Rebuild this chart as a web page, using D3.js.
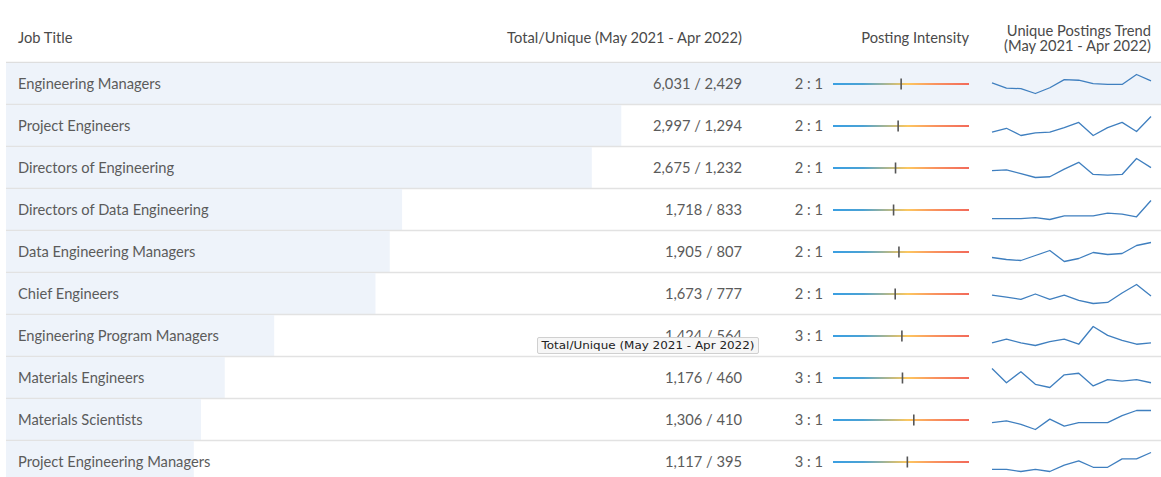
<!DOCTYPE html>
<html>
<head>
<meta charset="utf-8">
<script src="https://cdn.jsdelivr.net/npm/d3@7"></script>
<style>
  html, body { margin: 0; padding: 0; background: #fff; }
  svg { display: block; font-family: Lato, "Open Sans", sans-serif; }
</style>
</head>
<body>
<svg id="chart" width="1161" height="477"></svg>
<script>
// ---- data ----
const jobTitles = [
  "Engineering Managers", "Project Engineers", "Directors of Engineering",
  "Directors of Data Engineering", "Data Engineering Managers", "Chief Engineers",
  "Engineering Program Managers", "Materials Engineers", "Materials Scientists",
  "Project Engineering Managers"
];
const totalPostings = [6031, 2997, 2675, 1718, 1905, 1673, 1424, 1176, 1306, 1117];
const uniquePostings = [2429, 1294, 1232, 833, 807, 777, 564, 460, 410, 395];
const months = ["May 2021","Jun 2021","Jul 2021","Aug 2021","Sep 2021","Oct 2021",
  "Nov 2021","Dec 2021","Jan 2022","Feb 2022","Mar 2022","Apr 2022"];
const monthlyUnique = [
  [205,188,186,170,189,216,214,203,200,200,233,212],
  [102,108,97,101,102,109,117,97,109,117,103,126],
  [103,104,99,94,95,105,114,98,97,98,119,107],
  [66,66,66,67,65,69,69,69,72,71,68,86],
  [64,62,61,66,71,60,63,69,67,68,76,79],
  [66,64,62,67,62,66,61,58,59,68,76,65],
  [45,48,45,43,46,48,44,58,51,47,44,45],
  [45,36,43,35,33,41,42,34,38,37,38,36],
  [33,34,32,29,35,31,33,33,33,37,40,40],
  [31,31,30,31,30,33,35,32,32,36,36,39]
];
const headers = {
  title: "Job Title",
  totals: "Total/Unique (May 2021 - Apr 2022)",
  intensity: "Posting Intensity",
  trend: ["Unique Postings Trend", "(May 2021 - Apr 2022)"]
};
const tooltipText = "Total/Unique (May 2021 - Apr 2022)";
const tooltipRow = 6;

// ---- layout ----
const W = 1161, H = 477;
const headerBottom = 62, rowH = 42;
const left = 6, right = 1161;
const textColor = "#5b5b5b";
const fs = 14.7;
const fmt = d3.format(",");

const svg = d3.select("#chart");

const yRow = d3.scaleBand().domain(d3.range(jobTitles.length))
  .range([headerBottom, headerBottom + rowH * jobTitles.length]).padding(0);

const xBar = d3.scaleLinear().domain([0, d3.max(uniquePostings)]).range([left, right]);
const xInt = d3.scaleLinear().domain([-1.3, 6.25]).range([833, 969]);
const xSpark = d3.scalePoint().domain(months).range([992, 1151]);

// gradient
const defs = svg.append("defs");
const grad = defs.append("linearGradient").attr("id", "intGrad")
  .attr("gradientUnits", "userSpaceOnUse")
  .attr("x1", 833).attr("x2", 969).attr("y1", 0).attr("y2", 0);
[[0, "#3a9fe2"], [0.22, "#4ba2d4"], [0.45, "#c9bc7a"], [0.55, "#fdc75f"], [0.75, "#f9925f"], [1, "#f26a5a"]]
  .forEach(([o, c]) => grad.append("stop").attr("offset", o).attr("stop-color", c));

// header
const hdr = svg.append("g").attr("fill", "#4a4a4a").attr("font-size", fs);
hdr.append("text").attr("x", 18).attr("y", 38).attr("dy", "0.35em").text(headers.title);
hdr.append("text").attr("x", 742).attr("y", 38).attr("dy", "0.35em").attr("text-anchor", "end").text(headers.totals);
hdr.append("text").attr("x", 969).attr("y", 38).attr("dy", "0.35em").attr("text-anchor", "end").text(headers.intensity);
hdr.append("text").attr("x", 1151).attr("y", 30.5).attr("dy", "0.35em").attr("text-anchor", "end").text(headers.trend[0]);
hdr.append("text").attr("x", 1151).attr("y", 45.5).attr("dy", "0.35em").attr("text-anchor", "end").text(headers.trend[1]);

svg.append("line").attr("x1", left).attr("x2", right)
  .attr("y1", headerBottom + 0.5).attr("y2", headerBottom + 0.5)
  .attr("stroke", "#dedede").attr("stroke-width", 1.5);

// rows
const rows = svg.append("g").selectAll("g").data(jobTitles).join("g")
  .attr("transform", (d, i) => `translate(0,${yRow(i)})`);

rows.append("rect")
  .attr("x", left).attr("y", 1)
  .attr("width", (d, i) => xBar(uniquePostings[i]) - left)
  .attr("height", rowH - 1)
  .attr("fill", "#eef3fa");

rows.append("line").attr("x1", left).attr("x2", right)
  .attr("y1", rowH + 0.5).attr("y2", rowH + 0.5)
  .attr("stroke", "#e2e2e2").attr("stroke-width", 1.5);

const ty = rowH / 2 + 1;
rows.append("text").attr("x", 18).attr("y", ty).attr("dy", "0.35em")
  .attr("font-size", fs).attr("fill", textColor).text(d => d);

rows.append("text").attr("x", 742).attr("y", ty).attr("dy", "0.35em")
  .attr("text-anchor", "end").attr("font-size", fs).attr("fill", textColor)
  .text((d, i) => `${fmt(totalPostings[i])} / ${fmt(uniquePostings[i])}`);

rows.append("text").attr("x", 823).attr("y", ty).attr("dy", "0.35em")
  .attr("text-anchor", "end").attr("font-size", fs).attr("fill", textColor)
  .text((d, i) => `${Math.round(totalPostings[i] / uniquePostings[i])} : 1`);

rows.append("line").attr("x1", xInt.range()[0]).attr("x2", xInt.range()[1])
  .attr("y1", ty).attr("y2", ty)
  .attr("stroke", "url(#intGrad)").attr("stroke-width", 2);

rows.append("line")
  .attr("x1", (d, i) => xInt(totalPostings[i] / uniquePostings[i]))
  .attr("x2", (d, i) => xInt(totalPostings[i] / uniquePostings[i]))
  .attr("y1", ty - 5.5).attr("y2", ty + 5.5)
  .attr("stroke", "#555").attr("stroke-width", 1.6);

rows.each(function (d, i) {
  const vals = monthlyUnique[i];
  const ys = d3.scaleLinear().domain(d3.extent(vals)).range([31.5, 12.5]);
  const line = d3.line().x((v, j) => xSpark(months[j])).y(v => ys(v));
  d3.select(this).append("path").datum(vals)
    .attr("d", line).attr("fill", "none")
    .attr("stroke", "#3f7fbf").attr("stroke-width", 1.3)
    .attr("stroke-linejoin", "round");
});

// tooltip overlay
const tip = svg.append("g").attr("transform", `translate(537,${yRow(tooltipRow) + 23})`);
tip.append("rect").attr("x", 0.5).attr("y", 0.5).attr("width", 221).attr("height", 16)
  .attr("fill", "#f6f6f6").attr("stroke", "#d0d0d0").attr("rx", 1.5);
tip.append("text").attr("x", 4.5).attr("y", 8.5).attr("dy", "0.35em")
  .attr("font-family", "'DejaVu Sans', sans-serif").attr("font-size", 11)
  .attr("textLength", 213).attr("lengthAdjust", "spacingAndGlyphs")
  .attr("fill", "#222").text(tooltipText);
</script>
</body>
</html>
